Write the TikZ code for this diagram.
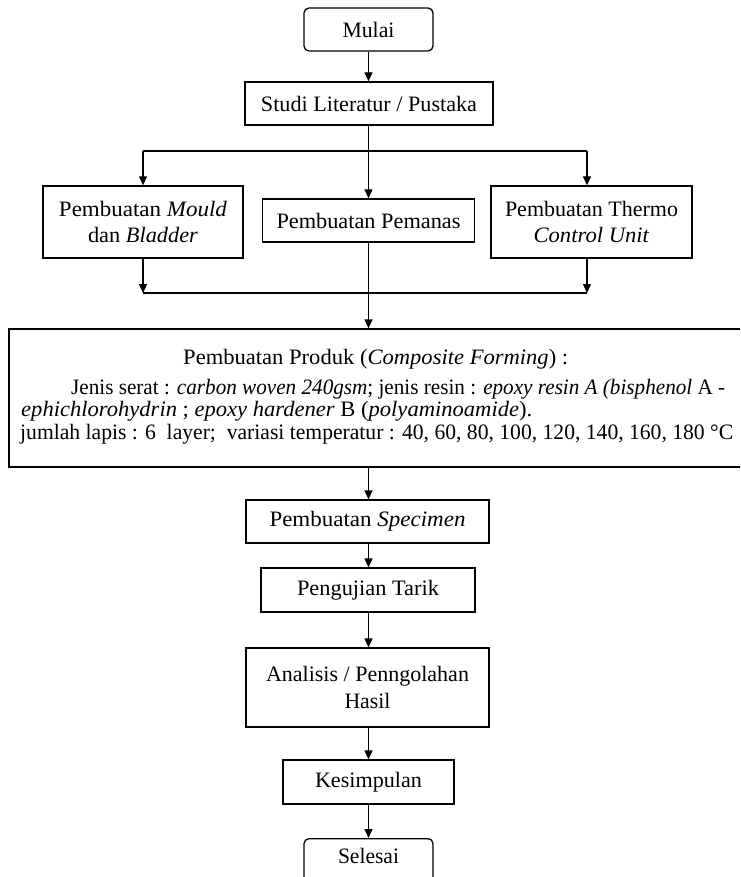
\documentclass[tikz,border=0pt]{standalone}
\usepackage{fontspec}
\setmainfont{Liberation Serif}
\usetikzlibrary{arrows.meta}
\newcommand{\fitw}[2]{\resizebox{#1pt}{\height}{#2}}
\begin{document}
\begin{tikzpicture}[x=1pt,y=-1pt,
  every node/.style={font=\fontsize{22}{26.5}\selectfont},
  box/.style={draw, line width=1.3pt, inner sep=0pt, align=center},
  rbox/.style={box, rounded corners=5pt},
  txt/.style={inner sep=0pt, anchor=base west},
  link/.style={line width=1.3pt},
  arr/.style={link, -{Triangle[length=9pt,width=8pt]}}]
\useasboundingbox (0,0) rectangle (740,877);
\clip (0,0) rectangle (740,877);

\node[rbox, minimum width=129pt, minimum height=43pt] (mulai) at (368.5,29.5) {\fitw{52}{Mulai}};
\node[box, minimum width=248pt, minimum height=43pt] (studi) at (369,103.5) {\fitw{216}{Studi Literatur / Pustaka}};
\node[box, minimum width=200pt, minimum height=72pt] (mould) at (143,222) {\fitw{168}{Pembuatan \textit{Mould}}\\ \fitw{110}{dan \textit{Bladder}}};
\node[box, minimum width=212pt, minimum height=43pt] (pemanas) at (368.5,220.5) {\fitw{184}{Pembuatan Pemanas}};
\node[box, minimum width=201pt, minimum height=72pt] (thermo) at (591.5,222) {\fitw{173}{Pembuatan Thermo}\\ \fitw{116}{\textit{Control Unit}}};

\node[box, minimum width=751pt, minimum height=138pt] (produk) at (384.5,398) {};
\node[txt] (prod1) at (183,364) {\fitw{385}{Pembuatan Produk (\textit{Composite Forming}) :}};
\node[txt] (prod2) at (71,394) {\fitw{654}{Jenis serat : \textit{carbon woven 240gsm}; jenis resin : \textit{epoxy resin A (bisphenol} A -}};
\node[txt] (prod3) at (21,416) {\fitw{511}{\textit{ephichlorohydrin} ; \textit{epoxy hardener} B (\textit{polyaminoamide}).}};
\node[txt] (prod4) at (20,439) {\fitw{713}{jumlah lapis : 6~ layer;~ variasi temperatur : 40, 60, 80, 100, 120, 140, 160, 180 °C}};

\node[box, minimum width=243pt, minimum height=43pt] (specimen) at (367.5,521.5) {\fitw{196}{Pembuatan \textit{Specimen}}};
\node[box, minimum width=214pt, minimum height=44pt] (uji) at (368,590) {\fitw{142}{Pengujian Tarik}};
\node[box, minimum width=243pt, minimum height=79pt] (analisis) at (367.5,687.5) {\fitw{203}{Analisis / Penngolahan}\\[1pt] \fitw{46}{Hasil}};
\node[box, minimum width=171pt, minimum height=44pt] (kesimpulan) at (368.5,782) {\fitw{107}{Kesimpulan}};
\node[rbox, minimum width=129pt, text height=25pt, text depth=35pt, anchor=north] (selesai) at (368.5,838) {\fitw{61}{Selesai}};

\coordinate (j1) at (368.5,151);
\coordinate (bl) at (143,151);
\coordinate (br) at (587,151);
\coordinate (ml) at (143,293);
\coordinate (mr) at (587,293);

\draw[arr] (mulai.south) -- (mulai.south |- studi.north);
\draw[link] (studi.south -| j1) -- (j1);
\draw[link] (bl) -- (br);
\draw[arr] (bl) -- (bl |- mould.north);
\draw[arr] (br) -- (br |- thermo.north);
\draw[arr] (j1) -- (j1 |- pemanas.north);
\draw[arr] (mould.south -| ml) -- (ml);
\draw[arr] (thermo.south -| mr) -- (mr);
\draw[link] (ml) -- (mr);
\draw[arr] (pemanas.south -| j1) -- (j1 |- produk.north);
\draw[arr] (produk.south -| j1) -- (j1 |- specimen.north);
\draw[arr] (specimen.south -| j1) -- (j1 |- uji.north);
\draw[arr] (uji.south -| j1) -- (j1 |- analisis.north);
\draw[arr] (analisis.south -| j1) -- (j1 |- kesimpulan.north);
\draw[arr] (kesimpulan.south -| j1) -- (j1 |- selesai.north);
\end{tikzpicture}
\end{document}
